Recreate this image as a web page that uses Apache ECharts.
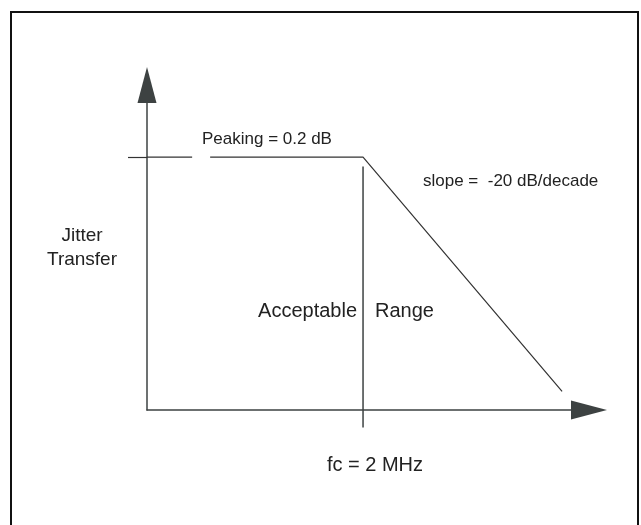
<!DOCTYPE html>
<html>
<head>
<meta charset="utf-8">
<script src="https://cdn.jsdelivr.net/npm/echarts@6/dist/echarts.min.js"></script>
<style>
  html, body { margin: 0; padding: 0; background: #fff; }
  #chart { width: 641px; height: 525px; }
</style>
</head>
<body>
<div id="chart"></div>
<script>
// response curve: flat at peaking level up to fc, then -20 dB/decade
const curveFreq = [0.24, 2, 31.6];     // MHz
const curveGain = [0.2, 0.2, -23.8];   // dB
// short reference tick across the y axis at the peaking level
const peakTickFreq = [0.1, 0.187];
const peakTickGain = [0.2, 0.2];
// corner frequency marker
const fcFreq = 2;
const fcLineGain = [-0.76, -27.5];

const textFont = "Liberation Sans, Arial, sans-serif";
const lineColor = "#3d4242";

const chart = echarts.init(document.getElementById("chart"));

const option = {
  animation: false,
  backgroundColor: "#fff",
  grid: { left: 147, top: 85, right: 52, bottom: 115 },
  xAxis: {
    type: "log",
    min: 0.1,
    max: 45.9,
    axisLine: {
      onZero: false,
      symbol: ["none", "triangle"],
      symbolSize: [19, 36],
      lineStyle: { color: lineColor, width: 1.5 }
    },
    axisTick: { show: false },
    axisLabel: { show: false },
    splitLine: { show: false }
  },
  yAxis: {
    type: "value",
    min: -25.7,
    max: 7.6,
    axisLine: {
      show: true,
      onZero: false,
      symbol: ["none", "triangle"],
      symbolSize: [19, 36],
      lineStyle: { color: lineColor, width: 1.5 }
    },
    // outer part of the peaking tick (left of the axis)
    axisTick: {
      show: true,
      length: 19,
      customValues: [peakTickGain[0]],
      lineStyle: { color: "#333", width: 1.2 }
    },
    axisLabel: { show: false },
    splitLine: { show: false }
  },
  series: [
    {
      name: "response",
      type: "line",
      data: curveFreq.map((f, i) => [f, curveGain[i]]),
      symbol: "none",
      clip: false,
      silent: true,
      lineStyle: { color: "#333", width: 1.2 }
    },
    {
      name: "peak tick",
      type: "line",
      data: peakTickFreq.map((f, i) => [f, peakTickGain[i]]),
      symbol: "none",
      clip: false,
      silent: true,
      lineStyle: { color: "#333", width: 1.2 }
    },
    {
      name: "fc",
      type: "line",
      data: fcLineGain.map(g => [fcFreq, g]),
      symbol: "none",
      clip: false,
      silent: true,
      lineStyle: { color: lineColor, width: 1.5 }
    }
  ],
  graphic: [
    // frame
    {
      type: "rect",
      shape: { x: 11, y: 12, width: 627, height: 560 },
      style: { fill: "none", stroke: "#111", lineWidth: 2 },
      silent: true
    },
    {
      type: "text", x: 202, y: 139,
      style: { text: "Peaking = 0.2 dB", font: "17px " + textFont, fill: "#222", textAlign: "left", textVerticalAlign: "middle" }
    },
    {
      type: "text", x: 423, y: 181,
      style: { text: "slope =  -20 dB/decade", font: "17px " + textFont, fill: "#222", textAlign: "left", textVerticalAlign: "middle" }
    },
    {
      type: "text", x: 357, y: 311,
      style: { text: "Acceptable", font: "20px " + textFont, fill: "#222", textAlign: "right", textVerticalAlign: "middle" }
    },
    {
      type: "text", x: 375, y: 311,
      style: { text: "Range", font: "20px " + textFont, fill: "#222", textAlign: "left", textVerticalAlign: "middle" }
    },
    {
      type: "text", x: 82, y: 236,
      style: { text: "Jitter", font: "19px " + textFont, fill: "#222", textAlign: "center", textVerticalAlign: "middle" }
    },
    {
      type: "text", x: 82, y: 260,
      style: { text: "Transfer", font: "19px " + textFont, fill: "#222", textAlign: "center", textVerticalAlign: "middle" }
    },
    {
      type: "text", x: 375, y: 465,
      style: { text: "fc = 2 MHz", font: "20px " + textFont, fill: "#222", textAlign: "center", textVerticalAlign: "middle" }
    }
  ]
};

chart.setOption(option);
</script>
</body>
</html>
